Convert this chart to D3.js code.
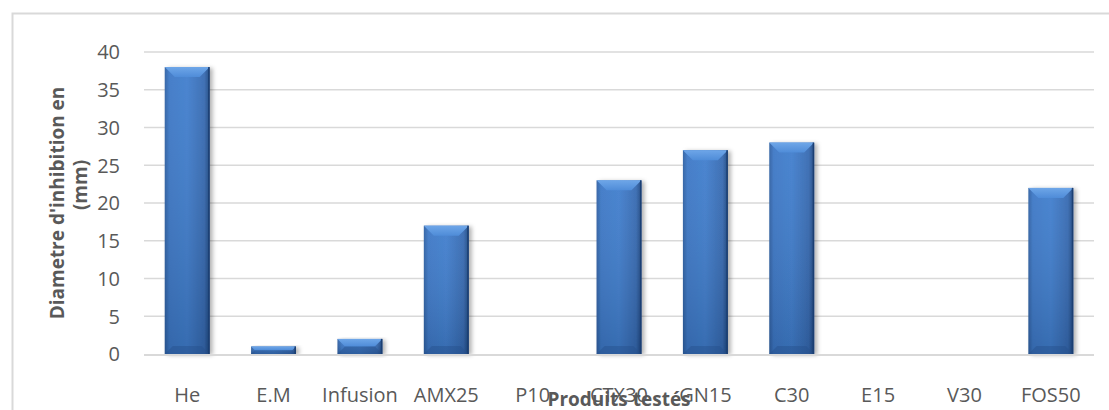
<!DOCTYPE html>
<html>
<head>
<meta charset="utf-8">
<script src="https://cdn.jsdelivr.net/npm/d3@7"></script>
<style>
  html, body { margin: 0; padding: 0; background: #fff; }
  svg { display: block; }
  text { font-family: "Open Sans", "Noto Sans", sans-serif; }
</style>
</head>
<body>
<svg id="chart" width="1109" height="410"></svg>
<script>
// Inhibition zone diameters (mm) per tested product
const categories = ["He", "E.M", "Infusion", "AMX25", "P10", "CTX30", "GN15", "C30", "E15", "V30", "FOS50"];
const values = [38, 1, 2, 17, 0, 23, 27, 28, 0, 0, 22];
const yTicks = [0, 5, 10, 15, 20, 25, 30, 35, 40];
const yTitleLines = ["Diametre d'inhibition en", "(mm)"];
const xTitle = "Produits testés";

const svg = d3.select("#chart");
const W = 1109, H = 410;
const plot = { left: 144, right: 1094, top: 52, bottom: 354 };

// Chart frame
svg.append("rect")
  .attr("x", 12.5).attr("y", 13.5)
  .attr("width", W + 20).attr("height", H + 20)
  .attr("fill", "none").attr("stroke", "#d9d9d9").attr("stroke-width", 2);

const x = d3.scaleBand()
  .domain(categories)
  .range([plot.left, plot.right])
  .paddingInner(0.48)
  .paddingOuter(0.24);

const y = d3.scaleLinear().domain([0, 40]).range([plot.bottom, plot.top]);

// Bar fills
const defs = svg.append("defs");
const gH = defs.append("linearGradient").attr("id", "barBody").attr("x1", 0).attr("x2", 1).attr("y1", 0).attr("y2", 0);
[[0, "#2d5fa2"], [0.1, "#3b77c6"], [0.5, "#3f7dcd"], [0.88, "#3569b1"], [1, "#1e4680"]]
  .forEach(([o, c]) => gH.append("stop").attr("offset", o).attr("stop-color", c));
const gV = defs.append("linearGradient").attr("id", "barShade").attr("x1", 0).attr("x2", 0).attr("y1", 0).attr("y2", 1);
gV.append("stop").attr("offset", 0).attr("stop-color", "#ffffff").attr("stop-opacity", 0.06);
gV.append("stop").attr("offset", 1).attr("stop-color", "#000000").attr("stop-opacity", 0.14);
const gTop = defs.append("linearGradient").attr("id", "barTop").attr("x1", 0).attr("x2", 0).attr("y1", 0).attr("y2", 1);
gTop.append("stop").attr("offset", 0).attr("stop-color", "#6ea6e8");
gTop.append("stop").attr("offset", 1).attr("stop-color", "#4f8cd8");
const shadow = defs.append("filter").attr("id", "barShadow")
  .attr("x", "-30%").attr("y", "-10%").attr("width", "160%").attr("height", "130%");
shadow.append("feDropShadow").attr("dx", 3).attr("dy", 1).attr("stdDeviation", 2.2)
  .attr("flood-color", "#000").attr("flood-opacity", 0.3);

// Horizontal gridlines
svg.append("g").selectAll("line")
  .data(yTicks.filter(t => t !== 0))
  .join("line")
  .attr("x1", plot.left).attr("x2", plot.right)
  .attr("y1", d => y(d)).attr("y2", d => y(d))
  .attr("stroke", "#d9d9d9").attr("stroke-width", 1.5);

// Y axis labels
const yAxis = d3.axisLeft(y).tickValues(yTicks).tickSize(0).tickPadding(0);
const gy = svg.append("g").attr("transform", `translate(${plot.left - 24},0)`).call(yAxis);
gy.select(".domain").remove();
gy.selectAll("text")
  .attr("font-family", "'Open Sans', sans-serif")
  .attr("font-size", 20).attr("fill", "#595959").attr("dy", "0.34em");

// Bars
const bars = svg.append("g").selectAll("g")
  .data(categories.map((c, i) => ({ c, v: values[i] })).filter(d => d.v > 0))
  .join("g");

bars.append("rect")
  .attr("x", d => x(d.c)).attr("y", d => y(d.v))
  .attr("width", x.bandwidth()).attr("height", d => y(0) - y(d.v))
  .attr("fill", "url(#barBody)")
  .attr("filter", "url(#barShadow)");
bars.append("rect")
  .attr("x", d => x(d.c)).attr("y", d => y(d.v))
  .attr("width", x.bandwidth()).attr("height", d => y(0) - y(d.v))
  .attr("fill", "url(#barShade)");

// Bevel facets
bars.append("polygon")
  .attr("points", d => {
    const x0 = x(d.c), x1 = x0 + x.bandwidth(), y0 = y(d.v), h = y(0) - y(d.v);
    const b = Math.min(10, h / 2);
    return [[x0, y0], [x1, y0], [x1 - b, y0 + b], [x0 + b, y0 + b]].join(" ");
  })
  .attr("fill", "url(#barTop)");
bars.append("polygon")
  .attr("points", d => {
    const x0 = x(d.c), x1 = x0 + x.bandwidth(), y1 = y(0), h = y(0) - y(d.v);
    const b = Math.min(8, h / 2);
    return [[x0, y1], [x1, y1], [x1 - b, y1 - b], [x0 + b, y1 - b]].join(" ");
  })
  .attr("fill", "#254f8c").attr("opacity", 0.45);
bars.append("line")
  .attr("x1", d => x(d.c) + x.bandwidth() - 0.75).attr("x2", d => x(d.c) + x.bandwidth() - 0.75)
  .attr("y1", d => y(d.v)).attr("y2", y(0))
  .attr("stroke", "#1b3f73").attr("stroke-width", 1.5);

// Baseline
svg.append("line")
  .attr("x1", plot.left).attr("x2", plot.right)
  .attr("y1", y(0) + 1).attr("y2", y(0) + 1)
  .attr("stroke", "#d9d9d9").attr("stroke-width", 2);

// X axis labels
const xAxis = d3.axisBottom(x).tickSize(0).tickPadding(0);
const gx = svg.append("g").attr("transform", `translate(0,402)`).call(xAxis);
gx.select(".domain").remove();
gx.selectAll("text")
  .attr("font-family", "'Open Sans', sans-serif")
  .attr("font-size", 20).attr("fill", "#595959").attr("dy", 0).attr("y", 0);

// Axis titles
svg.append("text")
  .attr("transform", "translate(64,203) rotate(-90)")
  .attr("text-anchor", "middle")
  .attr("font-size", 19).attr("font-weight", "bold").attr("fill", "#595959")
  .text(yTitleLines[0]);
svg.append("text")
  .attr("transform", "translate(87,185) rotate(-90)")
  .attr("text-anchor", "middle")
  .attr("font-size", 19).attr("font-weight", "bold").attr("fill", "#595959")
  .text(yTitleLines[1]);
svg.append("text")
  .attr("x", 619).attr("y", 406)
  .attr("text-anchor", "middle")
  .attr("font-size", 19).attr("font-weight", "bold").attr("fill", "#595959")
  .text(xTitle);
</script>
</body>
</html>
